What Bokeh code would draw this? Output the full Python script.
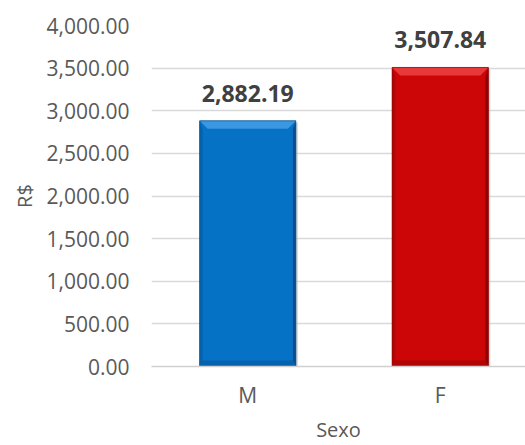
from bokeh.plotting import figure
from bokeh.models import (Range1d, FixedTicker, NumeralTickFormatter, ColumnDataSource, LabelSet)
from bokeh.core.properties import value
from bokeh.embed import file_html
from bokeh.resources import INLINE

# ---- data ----
categories = ["M", "F"]
values = [2882.19, 3507.84]
y_ticks = [0, 500, 1000, 1500, 2000, 2500, 3000, 3500, 4000]
x_title = "Sexo"
y_title = "R$"

# ---- style ----
face = ["#0672c6", "#cc0606"]
light = ["#3a98e2", "#e8383a"]
dark = ["#0a4f8c", "#8e0404"]
mid = ["#0562ad", "#b00505"]

W, H = 525, 445
left, right, top, bottom = 151, 0, 25, 79
frame_w = W - left - right
frame_h = H - top - bottom
ymax = 4000
cat_px = 192.5
xend = frame_w / cat_px
px_x = 1.0 / cat_px          # one pixel in x data units
px_y = ymax / frame_h        # one pixel in y data units

p = figure(width=W, height=H, output_backend="svg", toolbar_location=None,
           x_range=Range1d(0, xend), y_range=Range1d(0, ymax),
           min_border_left=left, min_border_right=right,
           min_border_top=top, min_border_bottom=bottom)
p.outline_line_color = None
p.background_fill_color = "white"
p.border_fill_color = "white"

xs = [i + 0.5 for i in range(len(categories))]
bw = 0.5

# shadow
for i, (x, v) in enumerate(zip(xs, values)):
    p.quad(left=x - bw / 2 + 2 * px_x, right=x + bw / 2 + 2 * px_x,
           bottom=-3 * px_y, top=v - 2 * px_y, fill_color="#bdbdbd",
           fill_alpha=0.6, line_color=None)

# bars with bevel
bev_t = 8
bev_s = 3
bev_b = 6
for i, (x, v) in enumerate(zip(xs, values)):
    l, r = x - bw / 2, x + bw / 2
    p.quad(left=l, right=r, bottom=0, top=v, fill_color=face[i], line_color=None)
    tx = bev_t * px_x
    ty = bev_t * px_y
    sx = bev_s * px_x
    by = bev_b * px_y
    p.patch([l, r, r - tx, l + tx], [v, v, v - ty, v - ty],
            fill_color=light[i], line_color=None)
    p.patch([l, l + sx, l + sx, l], [v, v - ty, by, 0],
            fill_color=mid[i], line_color=None)
    p.patch([r, r - sx, r - sx, r], [v, v - ty, by, 0],
            fill_color=dark[i], line_color=None)
    p.patch([l, r, r - sx, l + sx], [0, 0, by, by],
            fill_color=mid[i], line_color=None)
    p.quad(left=l, right=r, bottom=0, top=v, fill_color=None,
           line_color=dark[i], line_width=1, line_alpha=0.7)

# data labels
src = ColumnDataSource(dict(x=xs, y=values,
                            t=["{:,.2f}".format(v) for v in values]))
labels = LabelSet(x="x", y="y", text="t", source=src, y_offset=19,
                  text_align="center", text_baseline="alphabetic",
                  text_font=value("Open Sans"), text_font_style="bold",
                  text_font_size="23px", text_color="#404040")
p.add_layout(labels)

# axes
p.yaxis.ticker = FixedTicker(ticks=y_ticks)
p.yaxis.formatter = NumeralTickFormatter(format="0,0.00")
p.yaxis.axis_line_color = None
p.yaxis.major_tick_line_color = None
p.yaxis.minor_tick_line_color = None
p.yaxis.major_tick_out = 0
p.yaxis.major_tick_in = 0
p.yaxis.minor_tick_out = 0
p.yaxis.major_label_standoff = 22
p.yaxis.major_label_text_font = "Open Sans"
p.yaxis.major_label_text_font_size = "21px"
p.yaxis.major_label_text_color = "#595959"
p.yaxis.axis_label = y_title
p.yaxis.axis_label_text_font = "Open Sans"
p.yaxis.axis_label_text_font_size = "20px"
p.yaxis.axis_label_text_font_style = "normal"
p.yaxis.axis_label_text_color = "#595959"
p.yaxis.axis_label_standoff = 6

p.xaxis.ticker = FixedTicker(ticks=xs)
p.xaxis.major_label_overrides = {x: c for x, c in zip(xs, categories)}
p.xaxis.axis_line_color = "#d0d0d0"
p.xaxis.axis_line_width = 1.5
p.xaxis.major_tick_line_color = None
p.xaxis.minor_tick_line_color = None
p.xaxis.major_tick_out = 0
p.xaxis.major_tick_in = 0
p.xaxis.minor_tick_out = 0
p.xaxis.major_label_standoff = 14
p.xaxis.major_label_text_font = "Open Sans"
p.xaxis.major_label_text_font_size = "21px"
p.xaxis.major_label_text_color = "#595959"
p.xaxis.axis_label = x_title
p.xaxis.axis_label_text_font = "Open Sans"
p.xaxis.axis_label_text_font_size = "20px"
p.xaxis.axis_label_text_font_style = "normal"
p.xaxis.axis_label_text_color = "#595959"
p.xaxis.axis_label_standoff = 4

p.xgrid.visible = False
p.ygrid.ticker = FixedTicker(ticks=y_ticks)
p.ygrid.grid_line_color = "#d9d9d9"
p.ygrid.grid_line_width = 1.5
p.ygrid.level = "underlay"

open("out.html", "w").write(file_html(p, INLINE))
